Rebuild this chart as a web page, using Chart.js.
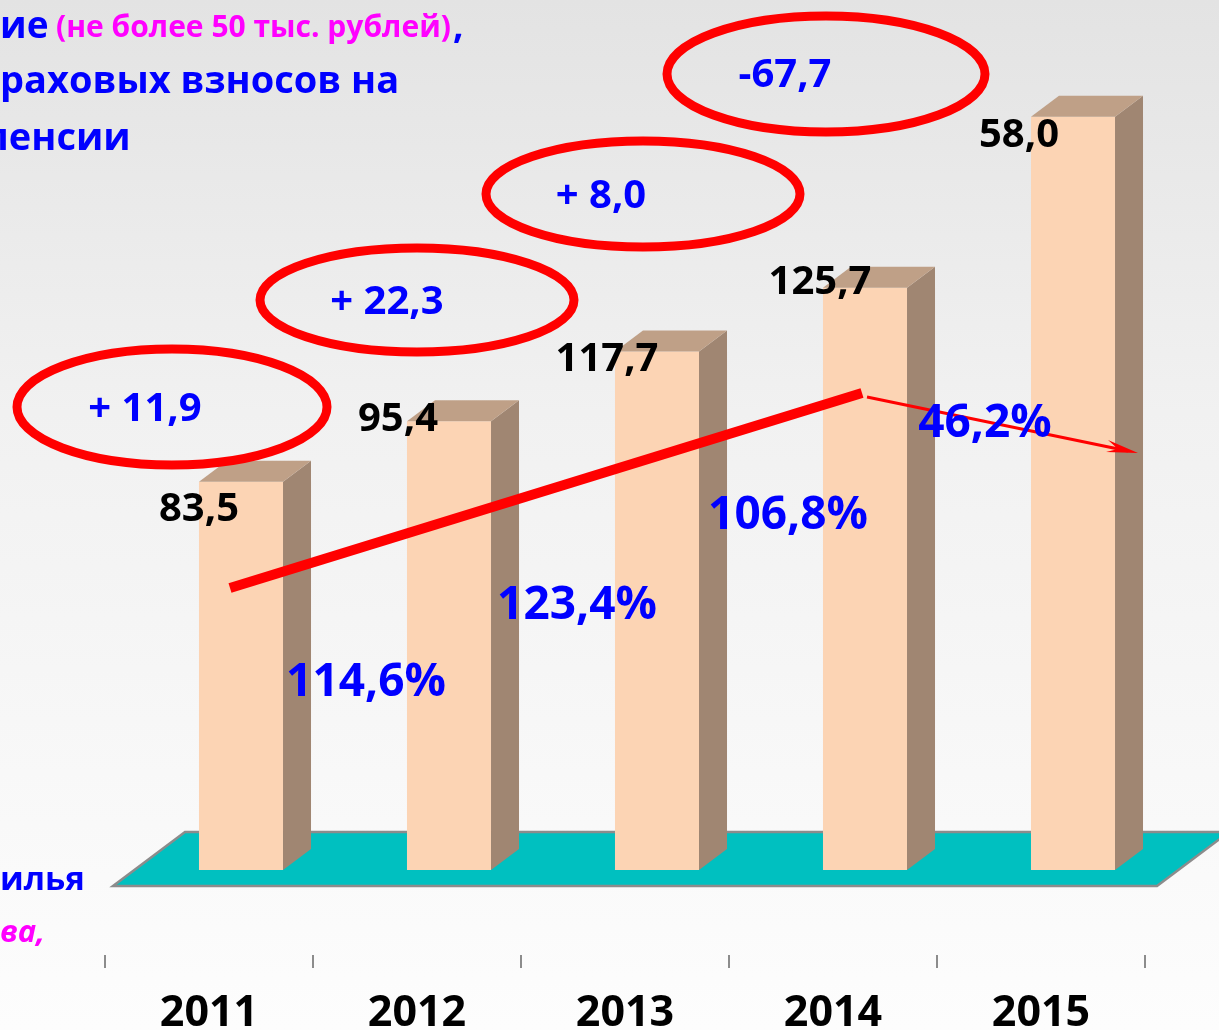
<!DOCTYPE html>
<html lang="ru">
<head>
    <meta charset="UTF-8">
    <title>Динамика по годам</title>
    <script src="https://cdn.jsdelivr.net/npm/chart.js"></script>
    <style>
        body {
            margin: 0;
            background: #fdfdfd;
        }

        .wrap {
            width: 1219px;
            height: 1030px;
        }
    </style>
</head>
<body>
    <div class="wrap">
        <canvas id="chart" width="1219" height="1030"></canvas>
    </div>

    <script>
        // данные
        const years = ['2011', '2012', '2013', '2014', '2015'];
        // высота столбцов так, как они нарисованы (в масштабе первых четырёх)
        const barHeight = [83.5, 96.5, 111.5, 125.2, 162];
        // подписи над столбцами
        const valueText = ['83,5', '95,4', '117,7', '125,7', '58,0'];
        // темп роста к прошлому году
        const growthText = ['114,6%', '123,4%', '106,8%', '46,2%'];
        // прирост к прошлому году (в овалах)
        const changeText = ['+ 11,9', '+ 22,3', '+ 8,0', '-67,7'];

        const SHIFT = 32;   // сдвиг столбцов вправо от центра категории
        const DX = 28, DY = 21; // глубина объёма
        const FONT = '"Open Sans", "Noto Sans", sans-serif';

        function txt(ctx, s, x, y, size, color, align, style) {
            ctx.font = (style || 'bold') + ' ' + size + 'px ' + FONT;
            ctx.fillStyle = color;
            ctx.textAlign = align || 'center';
            ctx.textBaseline = 'alphabetic';
            ctx.fillText(s, x, y);
        }

        const deco = {
            id: 'deco',
            beforeDraw(chart) {
                const ctx = chart.ctx;
                const g = ctx.createLinearGradient(0, 0, 0, chart.height);
                g.addColorStop(0, '#e3e3e3');
                g.addColorStop(0.4, '#f1f1f1');
                g.addColorStop(0.8, '#f9f9f9');
                g.addColorStop(1, '#fdfdfd');
                ctx.save();
                ctx.fillStyle = g;
                ctx.fillRect(0, 0, chart.width, chart.height);

                // обрезанный текст слайда слева
                txt(ctx, 'ие', 0, 38, 37, '#0000ff', 'left');
                txt(ctx, '(не более 50 тыс. рублей)', 56, 37, 30, '#ff00ff', 'left');
                ctx.font = 'bold 30px ' + FONT;
                const w = ctx.measureText('(не более 50 тыс. рублей)').width;
                txt(ctx, ',', 58 + w, 38, 37, '#0000ff', 'left');
                txt(ctx, 'раховых взносов на', 0, 93, 38, '#0000ff', 'left');
                txt(ctx, 'пенсии', -16, 150, 38, '#0000ff', 'left');
                txt(ctx, 'илья', 0, 890, 33, '#0000ff', 'left');
                txt(ctx, 'ва,', 0, 942, 31, '#ff00ff', 'left', 'italic bold');
                ctx.restore();
            },
            beforeDatasetsDraw(chart) {
                const ctx = chart.ctx;
                const area = chart.chartArea;
                const base = chart.scales.y.getPixelForValue(0);
                const yb = base - 38, yf = base + 16;
                ctx.save();
                ctx.beginPath();
                ctx.moveTo(area.left + 8, yf);
                ctx.lineTo(area.left + 80, yb);
                ctx.lineTo(area.right + 84, yb);
                ctx.lineTo(area.right + 12, yf);
                ctx.closePath();
                ctx.fillStyle = '#00c0c0';
                ctx.fill();
                ctx.lineWidth = 2.5;
                ctx.strokeStyle = '#8c8c8c';
                ctx.stroke();
                ctx.restore();

                ctx.save();
                ctx.translate(SHIFT, 0);
            },
            afterDatasetsDraw(chart) {
                const ctx = chart.ctx;
                chart.getDatasetMeta(0).data.forEach(bar => {
                    const l = bar.x - bar.width / 2, r = bar.x + bar.width / 2;
                    const t = bar.y, b = bar.base;
                    ctx.fillStyle = '#a08672';
                    ctx.beginPath();
                    ctx.moveTo(r, b);
                    ctx.lineTo(r + DX, b - DY);
                    ctx.lineTo(r + DX, t - DY);
                    ctx.lineTo(r, t);
                    ctx.closePath();
                    ctx.fill();
                    ctx.fillStyle = '#bfa087';
                    ctx.beginPath();
                    ctx.moveTo(l, t);
                    ctx.lineTo(r, t);
                    ctx.lineTo(r + DX, t - DY);
                    ctx.lineTo(l + DX, t - DY);
                    ctx.closePath();
                    ctx.fill();
                });
                ctx.restore();
            },
            afterDraw(chart) {
                const ctx = chart.ctx;
                ctx.save();

                // линия тренда и стрелка
                ctx.strokeStyle = '#ff0000';
                ctx.lineWidth = 10;
                ctx.beginPath();
                ctx.moveTo(230, 588);
                ctx.lineTo(862, 393);
                ctx.stroke();
                ctx.lineWidth = 3;
                ctx.beginPath();
                ctx.moveTo(867, 397);
                ctx.lineTo(1128, 451);
                ctx.stroke();
                ctx.fillStyle = '#ff0000';
                ctx.beginPath();
                ctx.moveTo(1138, 453);
                ctx.lineTo(1108, 440);
                ctx.lineTo(1118, 449);
                ctx.lineTo(1106, 452);
                ctx.closePath();
                ctx.fill();

                // подписи значений
                const valuePos = [[199, 507], [398, 417], [607, 357], [820, 280], [1019, 133]];
                valueText.forEach((s, i) => {
                    txt(ctx, s, valuePos[i][0], valuePos[i][1] + 14, 40, '#000000');
                });

                // темп роста
                const growthPos = [[366, 680], [577, 603], [788, 513], [985, 421]];
                growthText.forEach((s, i) => {
                    txt(ctx, s, growthPos[i][0], growthPos[i][1] + 16, 46, '#0000ff');
                });

                // овалы с приростом
                const ovals = [[172, 407, 155, 58], [417, 300, 157, 52], [643, 194, 157, 53], [826, 74, 159, 58]];
                const changePos = [[145, 407], [387, 300], [601, 194], [785, 73]];
                ctx.strokeStyle = '#ff0000';
                ctx.lineWidth = 9;
                ovals.forEach((o, i) => {
                    ctx.beginPath();
                    ctx.ellipse(o[0], o[1], o[2], o[3], 0, 0, Math.PI * 2);
                    ctx.stroke();
                    txt(ctx, changeText[i], changePos[i][0], changePos[i][1] + 14, 40, '#0000ff');
                });
                ctx.restore();
            }
        };

        const ctx = document.getElementById('chart').getContext('2d');
        const chart = new Chart(ctx, {
            type: 'bar',
            data: {
                labels: years,
                datasets: [{
                    data: barHeight,
                    backgroundColor: '#fcd4b4',
                    borderWidth: 0,
                    categoryPercentage: 1,
                    barPercentage: 0.404
                }]
            },
            options: {
                responsive: false,
                animation: false,
                devicePixelRatio: 1,
                layout: {
                    padding: { left: 105, right: 74, top: 0, bottom: 0 }
                },
                plugins: {
                    legend: { display: false },
                    tooltip: { enabled: false }
                },
                scales: {
                    x: {
                        border: { display: false },
                        grid: {
                            offset: true,
                            drawOnChartArea: false,
                            tickLength: 13,
                            color: '#8c8c8c',
                            lineWidth: 2
                        },
                        ticks: {
                            color: '#000000',
                            padding: 20,
                            maxRotation: 0,
                            font: { family: FONT, weight: 'bold', size: 43 }
                        },
                        afterFit(scale) {
                            scale.height = 75;
                        }
                    },
                    y: {
                        display: false,
                        min: -18.28,
                        max: 187.1
                    }
                }
            },
            plugins: [deco]
        });
    </script>
</body>
</html>
